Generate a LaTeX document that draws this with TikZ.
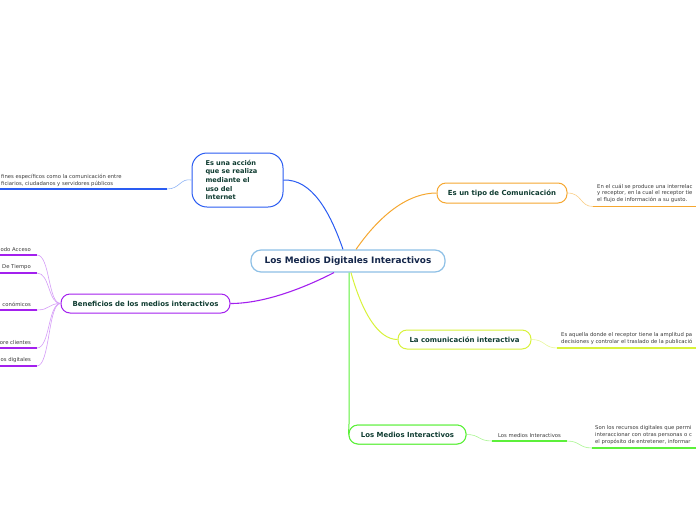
\documentclass[tikz,border=0pt]{standalone}
\usepackage{fontspec}
\setmainfont{DejaVu Sans}
\usetikzlibrary{positioning}

\definecolor{tituloc}{HTML}{0E3B30}
\definecolor{centroc}{HTML}{14264A}
\definecolor{hojac}{HTML}{3A3A3A}
\definecolor{azul}{HTML}{2A5CF2}
\definecolor{azulclaro}{HTML}{8FB4F5}
\definecolor{naranja}{HTML}{F5A730}
\definecolor{naranjaclaro}{HTML}{F9CE88}
\definecolor{amarillo}{HTML}{D8F23A}
\definecolor{amarilloclaro}{HTML}{E8F79A}
\definecolor{verde}{HTML}{5CF03A}
\definecolor{verdeclaro}{HTML}{A8F590}
\definecolor{morado}{HTML}{A320EE}
\definecolor{moradoclaro}{HTML}{D49BF7}
\definecolor{bordecentro}{HTML}{8EC0E6}

\tikzset{
  tema/.style={draw, rounded corners=9pt, fill=white, line width=1pt,
    text=tituloc, inner sep=0pt, minimum height=19pt,
    font=\fontsize{6.95}{8}\selectfont\bfseries},
  hoja/.style={text=hojac, inner sep=0pt, align=left,
    font=\fontsize{5.3}{6.8}\selectfont},
  rama/.style={line width=0.6pt},
  raya/.style={line width=1.6pt}
}

\begin{document}
\begin{tikzpicture}[x=1pt, y=-1pt]

    % --- marco ---
    \useasboundingbox (0,0) rectangle (696,520);

    % --- nodo central ---
    \node[draw=bordecentro, rounded corners=10pt, line width=1.2pt, fill=white,
          minimum width=194pt, minimum height=22pt, inner sep=0pt, text=centroc,
          font=\fontsize{8.9}{10}\selectfont\bfseries] (mdi) at (348,261)
          {Los Medios Digitales Interactivos};

    % --- temas ---
    \node[tema, draw=azul, rounded corners=15pt, minimum width=91pt, minimum height=54pt,
          align=left, font=\fontsize{6.6}{8.7}\selectfont\bfseries] (accion) at (237.5,180)
          {\parbox{64pt}{Es una acción\\que se realiza\\mediante el\\uso del\\Internet}};
    \node[tema, draw=naranja, minimum width=130pt, minimum height=20pt] (tipo) at (502,193)
          {Es un tipo de Comunicación};
    \node[tema, draw=amarillo, minimum width=133pt] (comu) at (464.5,339.5)
          {La comunicación interactiva};
    \node[tema, draw=verde, minimum width=117pt] (medios) at (407.5,434.5)
          {Los Medios Interactivos};
    \node[tema, draw=morado, minimum width=169pt] (benef) at (145.5,303.5)
          {Beneficios de los medios interactivos};

    % --- ramas desde el centro ---
    \draw[azul, line width=1pt] (mdi.north) ++(-5,0) .. controls (330,212) and (312,179) .. (accion.east);
    \draw[naranja, line width=1pt] (mdi.north) ++(8,0) .. controls (382,212) and (410,193) .. (tipo.west);
    \draw[amarillo, line width=1pt] (mdi.south) ++(3,0) .. controls (362,312) and (378,339.5) .. (comu.west);
    \draw[verde, line width=1pt] (mdi.south) ++(1,0) -- (349,424) .. controls (349,430) .. (medios.west);
    \draw[morado, line width=1.1pt] (mdi.south) ++(-14,0) .. controls (300,290) and (262,303.5) .. (benef.east);
    % volver a poner el nodo encima
    \node[tema, draw=verde, minimum width=117pt] at (medios) {Los Medios Interactivos};

    % --- hoja azul ---
    \coordinate (accionFin) at (167,189);
    \draw[azulclaro, rama] (accion.west) .. controls (180,178) and (180,189) .. (accionFin);
    \draw[azul, raya] (accionFin) -- (0,189);
    \node[hoja, anchor=south west] (accionHoja) at (1,186.5)
          {fines específicos como la comunicación entre\\ficiarios, ciudadanos y servidores públicos};

    % --- hoja naranja ---
    \coordinate (tipoIni) at (593,206.5);
    \draw[naranjaclaro, rama] (tipo.east) .. controls (582,193) and (580,206.5) .. (tipoIni);
    \draw[naranja, raya] (tipoIni) -- (696,206.5);
    \node[hoja, anchor=south west] (tipoHoja) at (597,203)
          {En el cuál se produce una interrelac\\y receptor, en la cual el receptor tie\\el flujo de información a su gusto.};

    % --- hoja amarilla ---
    \coordinate (comuIni) at (557,348);
    \draw[amarilloclaro, rama] (comu.east) .. controls (545,339.5) and (544,348) .. (comuIni);
    \draw[amarillo, raya] (comuIni) -- (696,348);
    \node[hoja, anchor=south west] (comuHoja) at (561,344.5)
          {Es aquella donde el receptor tiene la amplitud pa\\decisiones y controlar el traslado de la publicació};

    % --- hojas verdes ---
    \coordinate (mediosA) at (492,441);
    \coordinate (mediosB) at (567,441);
    \coordinate (mediosC) at (592,448);
    \draw[verdeclaro, rama] (medios.east) .. controls (480,434.5) and (478,441) .. (mediosA);
    \draw[verde, raya] (mediosA) -- (mediosB);
    \node[hoja, anchor=south] (mediosSub) at (529.5,437.5) {Los medios Interactivos};
    \draw[verdeclaro, rama] (mediosB) .. controls (580,441) and (579,448) .. (mediosC);
    \draw[verde, raya] (mediosC) -- (696,448);
    \node[hoja, anchor=south west] (mediosHoja) at (595,444.5)
          {Son los recursos digitales que permi\\interaccionar con otras personas o c\\el propósito de entretener, informar};

    % --- hojas moradas ---
    \foreach \y/\txt in {255/odo Acceso, 273/De Tiempo, 310/conómicos, 348/ore clientes, 366/os digitales}{
        \coordinate (b\y) at (37,\y);
        \draw[moradoclaro, rama] (benef.west) .. controls (48,303.5) and (50,\y) .. (b\y);
        \draw[morado, raya] (b\y) -- (0,\y);
        \node[hoja, anchor=south east] at (31,\y-3) {\txt};
    }

\end{tikzpicture}
\end{document}
